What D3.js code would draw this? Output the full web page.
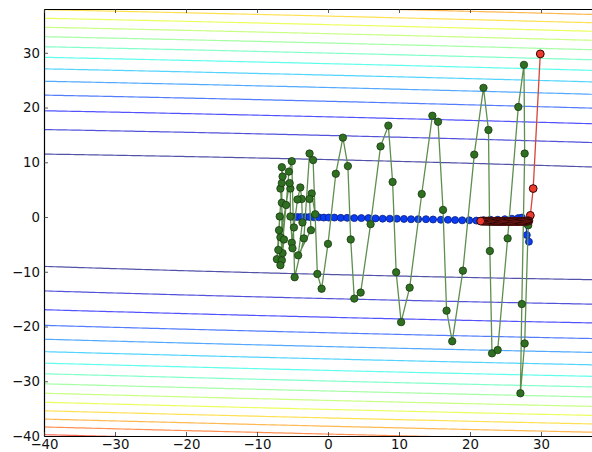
<!DOCTYPE html>
<html>
<head>
<meta charset="utf-8">
<script src="https://cdn.jsdelivr.net/npm/d3@7"></script>
<style>
  html, body { margin: 0; padding: 0; background: #fff; overflow: hidden; }
  svg { display: block; font-family: "DejaVu Sans", sans-serif; }
</style>
</head>
<body>
<svg id="chart" width="592" height="452"></svg>
<script>
// ---------- data ----------
const xTicks = [-40, -30, -20, -10, 0, 10, 20, 30];
const yTicks = [-40, -30, -20, -10, 0, 10, 20, 30];

// contour levels of f(x,y) = (y + 0.031 x)^2 + 0.003 x^2
const contourLevels = [110, 222, 335, 447, 560, 672, 785, 897, 1010, 1122, 1235, 1347, 1460, 1572, 1685, 1797, 1910];
const valleySlope = 0.031;
const curvatureX = 0.003;

// green path
const greenX = [-1.8, -2.3, -2.6, -2.4, -4.2, -3.6, -3.7, -3.9, -4.3, -4.8, -5.1, -5.0, -5.3, -5.3, -5.4, -6.7, -6.4, -6.2, -6.7, -6.5, -6.9, -7.0, -7.2, -6.8, -6.4, -6.5, -6.5, -6.5, -6.7, -5.9, -5.5, -5.1,
  -4.7, -3.4, -2.6, -2.1, -1.5, -0.9, 0.0, 1.1, 2.1, 2.8, 3.2, 3.7, 4.6, 6.0, 7.4, 8.5, 9.1, 9.6, 10.3, 11.5, 13.2, 14.7, 15.5, 16.2, 16.7, 17.5, 19.0, 20.6, 21.9, 22.6, 22.8, 23.1, 23.9, 25.3, 26.8, 27.6, 27.7, 27.3, 27.1, 27.7, 28.2];
const greenY = [0.5, 4.3, 3.3, -2.4, -7.0, -1.0, 3.3, 5.4, 3.2, -1.9, -4.7, -5.7, 0.1, 5.2, 6.2, -3.7, -6.6, -4.1, 5.2, 6.2, -2.4, -6.0, -7.7, 0.1, 7.4, 9.1, 2.6, -7.9, -8.8, 2.2, 8.3, 10.2,
  -11.0, -3.9, 11.6, 10.4, -10.4, -13.1, -4.9, 7.9, 14.5, 9.3, -4.1, -14.9, -13.8, -1.3, 12.9, 16.7, 6.4, -10.1, -19.2, -12.9, 4.2, 18.5, 17.4, 1.3, -17.1, -22.7, -9.8, 11.4, 23.6, 15.9, -6.2, -24.9, -24.3, -3.9, 20.1, 27.8, 11.6, -15.9, -32.2, -23.1, -1.5];

// blue path
const blueX = [-4.8, -4.3, -3.8, -3.2, -2.6, -2.0, -1.3, -0.6, 0.1, 0.9, 1.8, 2.7, 3.7, 4.7, 5.7, 6.7, 7.7, 8.7, 9.7, 10.7, 11.7, 12.7, 13.8, 14.8, 15.9, 16.9, 17.9, 18.9, 19.9, 20.9, 21.9, 22.9, 23.9, 24.9, 25.9, 26.8, 27.3, 27.9, 28.0, 28.3];
const blueY = [0.0, 0.0, 0.0, 0.0, 0.0, -0.05, -0.05, -0.1, -0.1, -0.1, -0.15, -0.15, -0.2, -0.2, -0.2, -0.25, -0.3, -0.3, -0.3, -0.35, -0.4, -0.4, -0.4, -0.45, -0.5, -0.5, -0.55, -0.6, -0.6, -0.65, -0.6, -0.5, -0.5, -0.4, -0.3, -0.2, -0.1, -1.2, -3.3, -4.5];

// red path
const redX = [29.9, 28.9, 28.5,
  28.30, 28.17, 28.04, 27.91, 27.78, 27.65, 27.52, 27.39, 27.26, 27.13, 27.00, 26.87, 26.74, 26.61, 26.48, 26.35, 26.22, 26.09,
  25.96, 25.83, 25.70, 25.57, 25.44, 25.31, 25.18, 25.05, 24.92, 24.79, 24.66, 24.53, 24.40, 24.27, 24.14, 24.01, 23.88, 23.75,
  23.62, 23.49, 23.36, 23.23, 23.10, 22.97, 22.84, 22.71, 22.58, 22.45, 22.32, 22.19, 22.06, 21.93, 21.80, 21.67, 21.50];
const redY = [29.8, 5.2, 0.3,
  -0.70, -0.72, -0.74, -0.75, -0.76, -0.77, -0.78, -0.78, -0.79, -0.79, -0.80, -0.80, -0.80, -0.81, -0.81, -0.81, -0.81, -0.81,
  -0.81, -0.81, -0.81, -0.81, -0.81, -0.81, -0.81, -0.80, -0.80, -0.80, -0.80, -0.80, -0.80, -0.79, -0.79, -0.79, -0.79, -0.79,
  -0.78, -0.78, -0.78, -0.78, -0.77, -0.77, -0.77, -0.77, -0.76, -0.76, -0.76, -0.76, -0.75, -0.75, -0.75, -0.75, -0.74];

// ---------- layout ----------
const svg = d3.select("#chart");
const mLeft = 44, mTop = 9, mRight = 612, mBottom = 436;
const x = d3.scaleLinear().domain([-40, 40]).range([mLeft, mRight]);
const y = d3.scaleLinear().domain([-40, 38]).range([mBottom, mTop]);

function jet(t) {
  const interp = (pts) => {
    for (let i = 0; i < pts.length - 1; i++) {
      const [a, va] = pts[i], [b, vb] = pts[i + 1];
      if (t >= a && t <= b) return va + (vb - va) * (t - a) / (b - a);
    }
    return pts[pts.length - 1][1];
  };
  const r = interp([[0, 0], [0.35, 0], [0.66, 1], [0.89, 1], [1, 0.5]]);
  const g = interp([[0, 0], [0.125, 0], [0.375, 1], [0.64, 1], [0.91, 0], [1, 0]]);
  const b = interp([[0, 0.5], [0.11, 1], [0.34, 1], [0.65, 0], [1, 0]]);
  return d3.rgb(r * 255, g * 255, b * 255).toString();
}

svg.append("defs").append("clipPath").attr("id", "plotclip")
  .append("rect").attr("x", mLeft).attr("y", mTop).attr("width", mRight - mLeft).attr("height", mBottom - mTop);

const plot = svg.append("g").attr("clip-path", "url(#plotclip)");

// contours
const xs = d3.range(-40, 40.01, 0.5);
const line = d3.line().x(d => x(d[0])).y(d => y(d[1]));
contourLevels.forEach((L, i) => {
  const col = jet(i / (contourLevels.length - 1));
  [1, -1].forEach(sign => {
    const pts = xs.map(xv => [xv, -valleySlope * xv + sign * Math.sqrt(Math.max(0, L - curvatureX * xv * xv))]);
    plot.append("path").attr("d", line(pts)).attr("fill", "none")
      .attr("stroke", col).attr("stroke-width", 1.2).attr("stroke-opacity", 0.68);
  });
});

function drawPath(X, Y, lineColor, fill, edge, r, lw, ew) {
  const pts = X.map((v, i) => [v, Y[i]]);
  const g = plot.append("g");
  g.append("path").attr("d", line(pts)).attr("fill", "none")
    .attr("stroke", lineColor).attr("stroke-width", lw);
  g.selectAll("circle").data(pts).enter().append("circle")
    .attr("cx", d => x(d[0])).attr("cy", d => y(d[1])).attr("r", r)
    .attr("fill", fill).attr("stroke", edge).attr("stroke-width", ew);
}

drawPath(blueX, blueY, "#2040c0", "#0a3cf5", "#0a1f80", 3.5, 1.2, 0.8);
drawPath(greenX, greenY, "#5e8f4e", "#2f6f22", "#1b3a12", 3.7, 1.3, 0.8);
drawPath(redX, redY, "#d4453a", "#ee3a2e", "#2a0504", 3.9, 1.3, 1.0);

// axes
const fontSize = "13.3px";
const gl = svg.append("g").attr("transform", `translate(${mLeft},0)`)
  .call(d3.axisLeft(y).tickValues(yTicks).tickSize(-4).tickSizeOuter(0).tickPadding(4));
const gb = svg.append("g").attr("transform", `translate(0,${mBottom})`)
  .call(d3.axisBottom(x).tickValues(xTicks).tickSize(-4).tickSizeOuter(0).tickPadding(3.5));
const gt = svg.append("g").attr("transform", `translate(0,${mTop})`)
  .call(d3.axisTop(x).tickValues(xTicks).tickSize(-4).tickSizeOuter(0).tickFormat(""));
const gr = svg.append("g").attr("transform", `translate(${mRight},0)`)
  .call(d3.axisRight(y).tickValues(yTicks).tickSize(-4).tickSizeOuter(0).tickFormat(""));

[gl, gb, gt, gr].forEach(g => {
  g.selectAll("text").attr("font-size", fontSize).attr("font-family", "DejaVu Sans").attr("fill", "#111");
  g.select(".domain").attr("stroke", "#000").attr("stroke-width", 1.2);
  g.selectAll(".tick line").attr("stroke", "#333").attr("stroke-width", 0.8);
});
</script>
</body>
</html>
